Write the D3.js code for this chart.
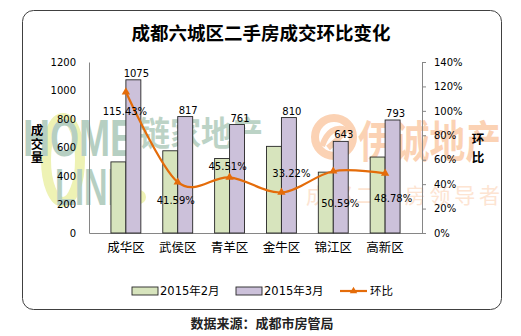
<!DOCTYPE html>
<html>
<head>
<meta charset="utf-8">
<script src="https://cdn.jsdelivr.net/npm/d3@7"></script>
<style>
  body { margin: 0; background: #fff; }
  svg { display: block; }
</style>
</head>
<body>
<div id="chart"></div>
<script>
// 数据
const categories = ["成华区", "武侯区", "青羊区", "金牛区", "锦江区", "高新区"];
const febValues = [499, 577, 523, 608, 427, 533];
const marValues = [1075, 817, 761, 810, 643, 793];
const ratioValues = [115.43, 41.59, 45.51, 33.22, 50.59, 48.78];
const seriesNames = ["2015年2月", "2015年3月", "环比"];
const leftTicks = [0, 200, 400, 600, 800, 1000, 1200];
const rightTicks = [0, 20, 40, 60, 80, 100, 120, 140];

const W = 521, H = 336;
const plot = { left: 89, right: 422, top: 62, bottom: 233 };
const green = "#d7e4bd", purple = "#ccc1da", orange = "#e46c0a";
const numFont = "'DejaVu Sans', sans-serif";
const cjkFont = "'Noto Sans CJK SC', sans-serif";

// 百分比标签的偏移 (相对于标记点)
const labelShift = [[-1, 19], [-2, 18], [-2, -11], [10, -19], [7, 32], [8, 25]];

const svg = d3.select("#chart").append("svg")
    .attr("width", W)
    .attr("height", H);

// 外框
svg.append("rect")
    .attr("x", 22.5).attr("y", 10.5)
    .attr("width", 479).attr("height", 299)
    .attr("rx", 11)
    .attr("fill", "#fff")
    .attr("stroke", "#404040");

// 水印
let wm = svg.append("g").attr("class", "watermark");
wm.append("ellipse")
    .attr("cx", 63).attr("cy", 160).attr("rx", 17).attr("ry", 42)
    .attr("fill", "none").attr("stroke", "#eef2b4").attr("stroke-width", 10);
wm.append("text").attr("x", 23).attr("y", 156)
    .attr("textLength", 112).attr("lengthAdjust", "spacingAndGlyphs")
    .style("font-family", "'Liberation Sans', sans-serif").style("font-weight", "bold")
    .style("font-size", "52px").attr("fill", "#b6cfc2").text("HOME");
wm.append("text").attr("x", 55).attr("y", 205)
    .attr("textLength", 76).attr("lengthAdjust", "spacingAndGlyphs")
    .style("font-family", "'Liberation Sans', sans-serif").style("font-weight", "bold")
    .style("font-size", "52px").attr("fill", "#b6cfc2").text("LINK");
wm.append("circle").attr("cx", 139).attr("cy", 197).attr("r", 7).attr("fill", "#eef2b4");
wm.append("text").attr("x", 139).attr("y", 146)
    .attr("textLength", 124).attr("lengthAdjust", "spacingAndGlyphs")
    .style("font-family", cjkFont).style("font-weight", "bold")
    .style("font-size", "34px").attr("fill", "#bcd3c6").text("链家地产");
wm.append("circle").attr("cx", 334).attr("cy", 137).attr("r", 19)
    .attr("fill", "none").attr("stroke", "#fbd2b4").attr("stroke-width", 8);
wm.append("path").attr("d", "M322,146 Q330,124 346,130 Q338,140 328,148")
    .attr("fill", "none").attr("stroke", "#fbd2b4").attr("stroke-width", 6);
wm.append("text").attr("x", 358).attr("y", 158)
    .attr("textLength", 143).attr("lengthAdjust", "spacingAndGlyphs")
    .style("font-family", cjkFont).style("font-weight", "bold")
    .style("font-size", "44px").attr("fill", "#fbd2b4").text("伊诚地产");
wm.append("text").attr("x", 306).attr("y", 203)
    .attr("textLength", 194).attr("lengthAdjust", "spacing")
    .style("font-family", cjkFont)
    .style("font-size", "21px").attr("fill", "#fde4d2").text("成都二手房领导者");

// 标题
svg.append("text")
    .attr("x", 261).attr("y", 40)
    .attr("text-anchor", "middle")
    .style("font-family", cjkFont)
    .style("font-size", "18.5px")
    .style("font-weight", "bold")
    .attr("fill", "#000")
    .text("成都六城区二手房成交环比变化");

// 比例尺
let x0 = d3.scaleBand()
    .domain(categories)
    .range([plot.left, plot.right])
    .padding(0.423);

let x1 = d3.scaleBand()
    .domain([0, 1])
    .range([0, x0.bandwidth()]);

let yL = d3.scaleLinear().domain([0, 1200]).range([plot.bottom, plot.top]);
let yR = d3.scaleLinear().domain([0, 140]).range([plot.bottom, plot.top]);

// 左轴
let gL = svg.append("g")
    .attr("transform", `translate(${plot.left},0)`)
    .call(d3.axisLeft(yL).tickValues(leftTicks).tickSize(0).tickPadding(13)
        .tickFormat(d3.format("d")));
gL.select(".domain").attr("stroke", "#868686");
gL.selectAll("text").style("font-family", numFont).style("font-size", "10px").attr("fill", "#000");

// 右轴
let gR = svg.append("g")
    .attr("transform", `translate(${plot.right},0)`)
    .call(d3.axisRight(yR).tickValues(rightTicks).tickSize(4).tickPadding(8)
        .tickFormat(d => d + "%"));
gR.select(".domain").attr("stroke", "#868686");
gR.selectAll("line").attr("stroke", "#868686");
gR.selectAll("text").style("font-family", numFont).style("font-size", "10px").attr("fill", "#000");

// 底轴
let gB = svg.append("g")
    .attr("transform", `translate(0,${plot.bottom})`)
    .call(d3.axisBottom(x0).tickSize(0).tickPadding(10).tickSizeOuter(0));
gB.select(".domain").attr("stroke", "#868686");
gB.selectAll("text").style("font-family", cjkFont).style("font-size", "12.5px").attr("fill", "#000");

// 轴标题
svg.append("text")
    .attr("x", 37).attr("y", 131)
    .attr("text-anchor", "middle")
    .style("font-family", cjkFont).style("font-size", "12.5px").style("font-weight", "bold")
    .selectAll("tspan")
    .data(["成", "交", "量"])
    .enter().append("tspan")
    .attr("x", 37).attr("dy", (d, i) => i === 0 ? "0.35em" : "1.05em")
    .text(d => d);

svg.append("text")
    .attr("x", 478).attr("y", 140)
    .attr("text-anchor", "middle")
    .style("font-family", cjkFont).style("font-size", "12.5px").style("font-weight", "bold")
    .selectAll("tspan")
    .data(["环", "比"])
    .enter().append("tspan")
    .attr("x", 478).attr("dy", (d, i) => i === 0 ? "0.35em" : "1.4em")
    .text(d => d);

// 柱
let barData = categories.map((c, i) => ({ cat: c, feb: febValues[i], mar: marValues[i], ratio: ratioValues[i], i: i }));

let groups = svg.selectAll(".grp")
    .data(barData)
    .enter().append("g")
    .attr("class", "grp")
    .attr("transform", d => `translate(${x0(d.cat)},0)`);

groups.append("rect")
    .attr("x", x1(0)).attr("y", d => yL(d.feb))
    .attr("width", x1.bandwidth()).attr("height", d => plot.bottom - yL(d.feb))
    .attr("fill", green).attr("stroke", "#262626").attr("stroke-width", 0.9);

groups.append("rect")
    .attr("x", x1(1)).attr("y", d => yL(d.mar))
    .attr("width", x1.bandwidth()).attr("height", d => plot.bottom - yL(d.mar))
    .attr("fill", purple).attr("stroke", "#262626").attr("stroke-width", 0.9);

// 3月数值标签
groups.append("text")
    .attr("x", x1(1) + x1.bandwidth() / 2 + 3)
    .attr("y", d => yL(d.mar) - 3)
    .attr("text-anchor", "middle")
    .style("font-family", numFont).style("font-size", "10px")
    .attr("fill", "#000")
    .text(d => d.mar);

// 环比折线
let cx = d => x0(d.cat) + x0.bandwidth() / 2;
let line = d3.line()
    .x(cx)
    .y(d => yR(d.ratio))
    .curve(d3.curveCardinal.tension(0));

svg.append("path")
    .datum(barData)
    .attr("d", line)
    .attr("fill", "none")
    .attr("stroke", orange)
    .attr("stroke-width", 2.2);

svg.selectAll(".marker")
    .data(barData)
    .enter().append("path")
    .attr("class", "marker")
    .attr("transform", d => `translate(${cx(d)},${yR(d.ratio)})`)
    .attr("d", d3.symbol().type(d3.symbolTriangle).size(30))
    .attr("fill", orange);

svg.selectAll(".pct")
    .data(barData)
    .enter().append("text")
    .attr("class", "pct")
    .attr("x", d => cx(d) + labelShift[d.i][0])
    .attr("y", d => yR(d.ratio) + labelShift[d.i][1])
    .attr("dy", "0.35em")
    .attr("text-anchor", "middle")
    .style("font-family", numFont).style("font-size", "10px")
    .attr("fill", "#000")
    .text(d => d.ratio.toFixed(2) + "%");

// 图例
let legend = svg.append("g").attr("transform", "translate(0,291)");
let legendX = [132, 236, 340];

[green, purple].forEach((col, i) => {
    legend.append("rect")
        .attr("x", legendX[i]).attr("y", -4)
        .attr("width", 26).attr("height", 8)
        .attr("fill", col).attr("stroke", "#262626").attr("stroke-width", 0.9);
});
legend.append("line")
    .attr("x1", legendX[2]).attr("x2", legendX[2] + 27)
    .attr("y1", 0).attr("y2", 0)
    .attr("stroke", orange).attr("stroke-width", 2.2);
legend.append("path")
    .attr("transform", `translate(${legendX[2] + 13.5},0)`)
    .attr("d", d3.symbol().type(d3.symbolTriangle).size(24))
    .attr("fill", orange);

legend.selectAll(".ltxt")
    .data(seriesNames)
    .enter().append("text")
    .attr("class", "ltxt")
    .attr("x", (d, i) => legendX[i] + (i === 2 ? 30 : 28))
    .attr("y", 0)
    .attr("dy", "0.36em")
    .style("font-family", "'DejaVu Sans', 'Noto Sans CJK SC', sans-serif")
    .style("font-size", "11.5px")
    .attr("fill", "#000")
    .text(d => d);

// 数据来源
svg.append("text")
    .attr("x", 262).attr("y", 328)
    .attr("text-anchor", "middle")
    .style("font-family", cjkFont)
    .style("font-size", "13px")
    .style("font-weight", "bold")
    .attr("fill", "#222")
    .text("数据来源：成都市房管局");
</script>
</body>
</html>
